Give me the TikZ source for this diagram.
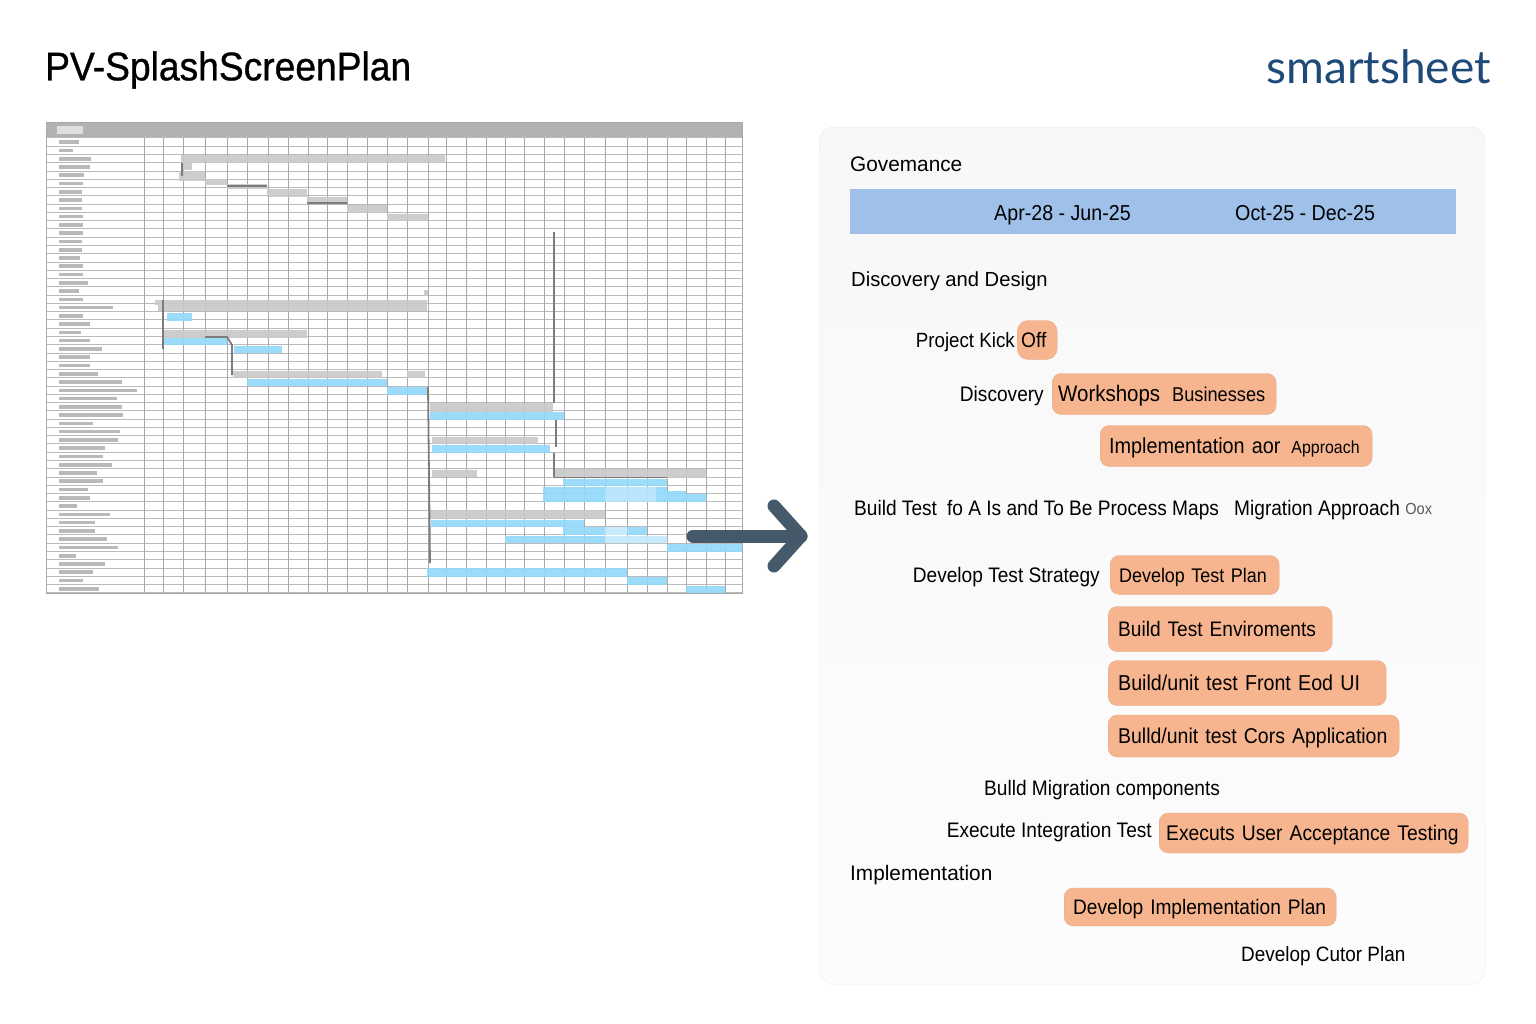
\documentclass[tikz,border=0pt]{standalone}
\usepackage{fontspec}
\setmainfont{Liberation Sans}
\newfontfamily\logofont{Lato}
\newfontfamily\tightfont[FakeStretch=0.91]{Liberation Sans}
\newfontfamily\headfont[FakeStretch=0.99]{Liberation Sans}
\newfontfamily\titlefont[FakeStretch=0.93,FakeBold=0.8]{Liberation Sans}
\usetikzlibrary{positioning}
\definecolor{headgray}{HTML}{B2B2B2}
\definecolor{gridgray}{HTML}{A9A9A9}
\definecolor{rowgray}{HTML}{BBBBBB}
\definecolor{bargray}{HTML}{C9C9C9}
\definecolor{barblue}{HTML}{93D9FB}
\definecolor{linkgray}{HTML}{7C7C7C}
\definecolor{panelborder}{HTML}{EDEDED}
\definecolor{bandblue}{HTML}{9FC0E9}
\definecolor{boxorange}{HTML}{F6B58F}
\definecolor{arrowslate}{HTML}{46596B}
\definecolor{logoblue}{HTML}{1D4A78}
\newcommand{\planfont}[1]{\tightfont\fontsize{#1}{24}\selectfont}
\begin{document}
\begin{tikzpicture}[
    x=1pt, y=-1pt,
    gridline/.style={gridgray, line width=1pt},
    rowline/.style={rowgray, line width=1pt},
    grayrow/.style={fill=bargray, fill opacity=0.92},
    bluerow/.style={fill=barblue, fill opacity=0.92},
    linkline/.style={linkgray, line width=1.8pt},
    rowmark/.style={fill=gridgray, fill opacity=0.8},
    bigarrow/.style={arrowslate, line width=13pt, line cap=round, line join=round},
    planlabel/.style={font=\planfont{21}, text height=17pt, text depth=2pt, inner sep=0pt},
    headlabel/.style={planlabel, anchor=west},
    sectionlabel/.style={headlabel, font=\headfont\fontsize{21}{24}\selectfont},
    taskbox/.style={planlabel, anchor=west, align=left, fill=boxorange, draw=boxorange!92!black, line width=0.3pt, rounded corners=9pt, inner xsep=9pt}
]
\useasboundingbox (0,0) rectangle (1536,1024);

% gantt chart
\fill[headgray] (46,123) rectangle (742,138);
\fill[gray!25] (57,126) rectangle (83,134);
\foreach \rownr in {0,...,55}
    \draw[rowline] (46,{138+8.27*\rownr}) -- (742,{138+8.27*\rownr});
\foreach \xline in {144.5,163,183,205,227,247,268,288,308,327.5,347,367,387,407,428,446,466,486,505,524,544,564,584,605,627,647,667,686,706,725,742}
    \draw[gridline] (\xline,138) -- (\xline,593);
\draw[gridline] (46,123) rectangle (742,593);

% row names
\foreach \rownr/\xend in {0/79,1/73,2/91,3/90,4/84,5/83,6/82,7/82,8/82,9/83,10/83,11/83,12/82,13/82,14/80,15/83,16/83,17/88,18/79,19/83,20/113,21/83,22/90,23/81,24/90,25/102,26/90,27/90,28/98,29/122,30/137,31/117,32/122,33/123,34/93,35/120,36/118,37/105,38/103,39/112,40/97,41/103,42/88,43/90,44/77,45/110,46/95,47/95,48/107,49/118,50/76,51/105,52/93,53/83,54/99}
    \fill[rowmark] (59,{138+8.27*\rownr+2.4}) rectangle (\xend,{138+8.27*\rownr+6});

% bars
\foreach \xa/\ya/\xb/\yb in {181/155/445/163, 181/163/192/170, 179/171/205/181, 205/179/227/185, 227/184/267/189, 267/189/307/197, 307/197/347/204, 347/205/387/213, 387/214/428/221, 424/290/428/296, 155/300/427/305, 158/305/427/311, 163/330/307/338, 233/371/382/378, 407/371/425/378, 430/403/553/412, 432/437/538/444, 432/470/477/477, 555/469/706/478, 430/510/605/519}
    \fill[grayrow] (\xa,\ya) rectangle (\xb,\yb);
\foreach \xa/\ya/\xb/\yb in {167/313/192/321, 164/338/227/345, 234/346/282/353, 247/379/387/386, 387/387/427/395, 430/412/564/420, 432/445/550/453, 563/479/667/486, 543/487/667/494, 667/491/686/494, 543/494/706/502, 431/520/584/527, 563/527/647/535, 505/536/667/543, 667/544/742/552, 427/568/627/577, 627/577/667/585, 686/586/725/593}
    \fill[bluerow] (\xa,\ya) rectangle (\xb,\yb);
\fill[white, fill opacity=0.45] (605,527) rectangle (627,543) (627,536) rectangle (667,543);
\fill[white, fill opacity=0.3] (605,487) rectangle (656,502);

% dependency lines
\draw[linkline] (182,163) -- (182,176);
\draw[linkline] (163,300) -- (163,349);
\draw[linkline] (205,337) -- (227,337) -- (232,345) -- (232,375);
\draw[linkline] (227,186) -- (267,186);
\draw[linkline] (307,203) -- (347,203);
\draw[linkline] (428,387) -- (430,563);
\draw[linkline] (554,232) -- (554,403);
\draw[linkline] (556,420) -- (556,447) (554,453) -- (554,477);
\draw[linkgray, line width=0.7pt] (554,477.5) -- (667,477.5);

% titles
\node[anchor=west, inner sep=0pt, font=\titlefont\fontsize{40}{44}\selectfont] (plantitle) at (45,70) {PV-SplashScreenPlan};
\node[anchor=east, inner sep=0pt, text=logoblue, font=\logofont\fontsize{46}{50}\selectfont] (logo) at (1491,67) {smartsheet};

% right panel
\node[anchor=north west, minimum width=666pt, minimum height=857pt, inner sep=0pt, rounded corners=14pt, draw=panelborder, top color=black!3, bottom color=black!1] (panel) at (819,127) {};
\node[anchor=north west, minimum width=606pt, minimum height=45pt, inner sep=0pt, fill=bandblue] (band) at (850,189) {};

\node[sectionlabel] (governance) at (850,164) {Govemance};
\node[headlabel, font=\planfont{21.6}] (datesa) at (994,213) {Apr-28 - Jun-25};
\node[headlabel, font=\planfont{21.6}] (datesb) at (1235,213) {Oct-25 - Dec-25};
\node[sectionlabel, font=\headfont\fontsize{20.4}{24}\selectfont] (design) at (851,279) {Discovery and Design};

\node[taskbox, text width=32pt, minimum height=39pt, inner xsep=4pt, rounded corners=11pt] (kickoff) at (1017,340) {\mbox{Off}};
\node[planlabel, left=2pt of kickoff, font=\planfont{20.6}] (kicklabel) {Project Kick};
\node[taskbox, text width=212pt, minimum height=41pt, inner xsep=6pt] (workshops) at (1052,394) {\mbox{\planfont{22.5}Workshops\hspace{12pt}\planfont{20}Businesses}};
\node[planlabel, left=8pt of workshops] (discovery) {Discovery};
\node[taskbox, text width=254pt, minimum height=41pt] (approach) at (1100,446) {\mbox{\planfont{21.8}Implementation aor\hspace{11pt}\planfont{17.5}Approach}};

\node[headlabel] (buildtest) at (854,508) {Build Test\hspace{10pt}fo A Is and To Be Process Maps};
\node[planlabel, anchor=west] (migration) at (1234,508) {Migration Approach};
\node[planlabel, right=5pt of migration, font=\planfont{16}, text=black!65, text height=12pt, text depth=0pt] (oox) {Oox};

\node[taskbox, text width=151pt, minimum height=39pt, font=\planfont{19.7}] (testplan) at (1110,575) {\mbox{Develop Test Plan}};
\node[planlabel, left=10pt of testplan] (strategy) {Develop Test Strategy};
\node[taskbox, text width=204pt, minimum height=45pt, inner xsep=10pt] (environments) at (1108,629) {\mbox{Build Test Enviroments}};
\node[taskbox, text width=258pt, minimum height=45pt, inner xsep=10pt, font=\planfont{21.6}] (frontend) at (1108,683) {\mbox{Build/unit test Front Eod UI}};
\node[taskbox, text width=271pt, minimum height=42pt, inner xsep=10pt, font=\planfont{21.4}] (coreapp) at (1108,736) {\mbox{Bulld/unit test Cors Application}};

\node[headlabel] (components) at (984,788) {Bulld Migration components};
\node[taskbox, text width=295pt, minimum height=40pt, inner xsep=7pt, font=\planfont{21.2}] (useraccept) at (1159,833) {\mbox{Executs User Acceptance Testing}};
\node[planlabel, left=7pt of useraccept, yshift=3pt] (integration) {Execute Integration Test};
\node[sectionlabel] (implement) at (850,873) {Implementation};
\node[taskbox, text width=254pt, minimum height=38pt] (implplan) at (1064,907) {\mbox{Develop Implementation Plan}};
\node[headlabel, font=\planfont{20.8}] (cutover) at (1241,954) {Develop Cutor Plan};

% arrow from chart to panel
\coordinate (arrowstart) at (693,536);
\coordinate (arrowtip) at (801,536);
\draw[bigarrow] (arrowstart) -- (arrowtip);
\draw[bigarrow] (arrowtip) ++(-27,-30) -- (arrowtip) -- ++(-27,30);
\end{tikzpicture}
\end{document}
